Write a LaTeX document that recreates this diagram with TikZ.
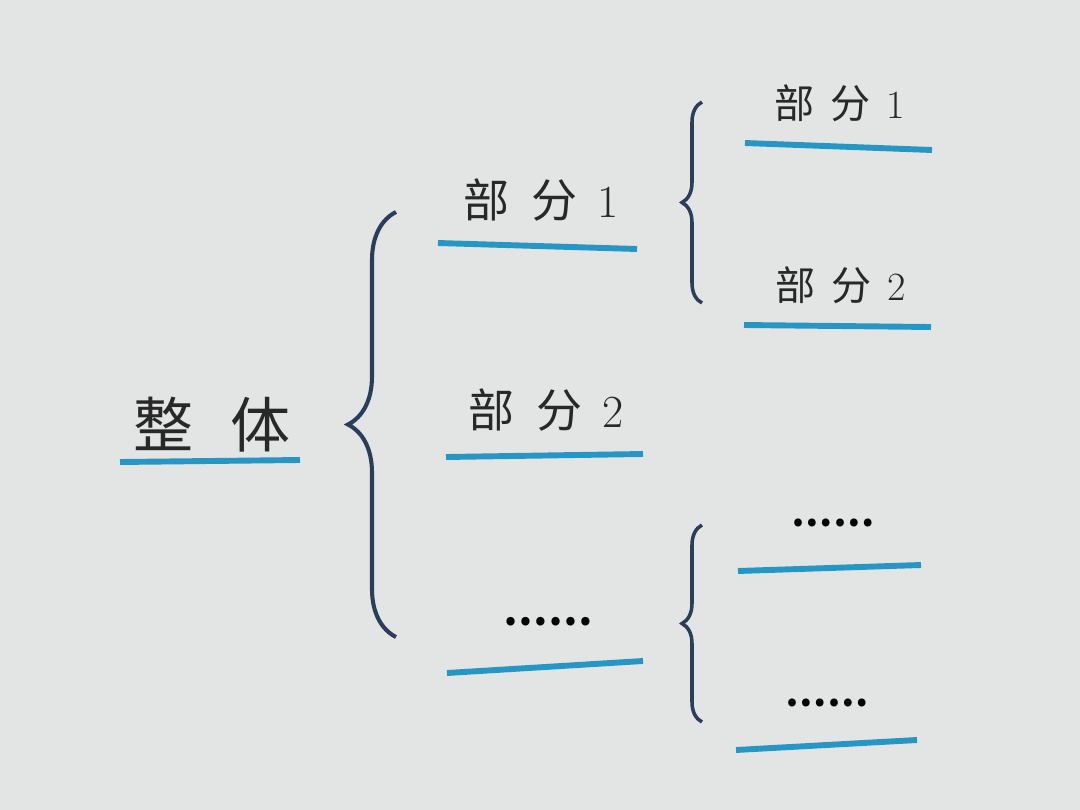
\documentclass[tikz,border=0pt]{standalone}
\usepackage{fontspec}
\newfontfamily\cjk{Noto Sans CJK SC}
\usetikzlibrary{decorations.pathreplacing}
\definecolor{paper}{RGB}{226,229,227}
\definecolor{lineblue}{RGB}{38,150,196}
\definecolor{bracenavy}{RGB}{42,62,92}
\definecolor{ink}{RGB}{40,40,40}
\newcommand\partno[1]{{\rmfamily #1}}

\begin{document}
\begin{tikzpicture}[x=0.025cm,y=-0.025cm]
	    \tikzstyle{whole}=[text=ink,font=\cjk\fontsize{42.7}{48}\selectfont,inner sep=0pt]
	    \tikzstyle{part}=[text=ink,font=\cjk\fontsize{32.7}{38}\selectfont,inner sep=0pt]
	    \tikzstyle{subpart}=[text=ink,font=\cjk\fontsize{28.5}{34}\selectfont,inner sep=0pt]
	    \tikzstyle{dots}=[text=black,font=\cjk\bfseries\fontsize{28}{34}\selectfont,inner sep=0pt]
	    \tikzstyle{subdots}=[text=black,font=\cjk\bfseries\fontsize{26}{32}\selectfont,inner sep=0pt]
	    \tikzstyle{uline}=[draw=lineblue,line width=4.2pt]
	    \tikzstyle{bracket}=[draw=bracenavy,line width=2.9pt,decorate,decoration={brace,amplitude=1.2cm}]
	    \tikzstyle{subbracket}=[draw=bracenavy,line width=2.5pt,decorate,decoration={brace,amplitude=0.5cm}]

	    \fill[paper] (0,0) rectangle (1080,810);
	    \useasboundingbox (0,0) rectangle (1080,810);

	    % texts
	    \node[whole](w) at (212,425){整\hspace{0.62em}体};
	    \node[part](p1) at (541,200){部\hspace{0.48em}分\hspace{0.45em}\partno{1}};
	    \node[part](p2) at (546,410){部\hspace{0.48em}分\hspace{0.45em}\partno{2}};
	    \node[dots](pd) at (548,622){……};
	    \node[subpart](s1) at (840,103){部\hspace{0.4em}分\hspace{0.4em}\partno{1}};
	    \node[subpart](s2) at (841,285){部\hspace{0.4em}分\hspace{0.4em}\partno{2}};
	    \node[subdots](sd1) at (833,523){……};
	    \node[subdots](sd2) at (827,703){……};

	    % underline ends
	    \coordinate (wl) at (120,462); \coordinate (wr) at (300,460);
	    \coordinate (p1l) at (438,243); \coordinate (p1r) at (637,249);
	    \coordinate (p2l) at (446,457); \coordinate (p2r) at (643,454);
	    \coordinate (pdl) at (447,673); \coordinate (pdr) at (643,661);
	    \coordinate (s1l) at (745,143); \coordinate (s1r) at (932,150);
	    \coordinate (s2l) at (744,325); \coordinate (s2r) at (931,327);
	    \coordinate (sd1l) at (738,571); \coordinate (sd1r) at (921,565);
	    \coordinate (sd2l) at (736,750); \coordinate (sd2r) at (917,740);

	    \draw[uline] (wl) -- (wr);
	    \draw[uline] (p1l) -- (p1r);
	    \draw[uline] (p2l) -- (p2r);
	    \draw[uline] (pdl) -- (pdr);
	    \draw[uline] (s1l) -- (s1r);
	    \draw[uline] (s2l) -- (s2r);
	    \draw[uline] (sd1l) -- (sd1r);
	    \draw[uline] (sd2l) -- (sd2r);

	    % brace ends
	    \coordinate (bt) at (396,212); \coordinate (bb) at (396,637);
	    \coordinate (ut) at (702,102); \coordinate (ub) at (702,303);
	    \coordinate (lt) at (702,525); \coordinate (lb) at (702,722);

	    \draw[bracket] (bb) -- (bt);
	    \draw[subbracket] (ub) -- (ut);
	    \draw[subbracket] (lb) -- (lt);
\end{tikzpicture}
\end{document}
